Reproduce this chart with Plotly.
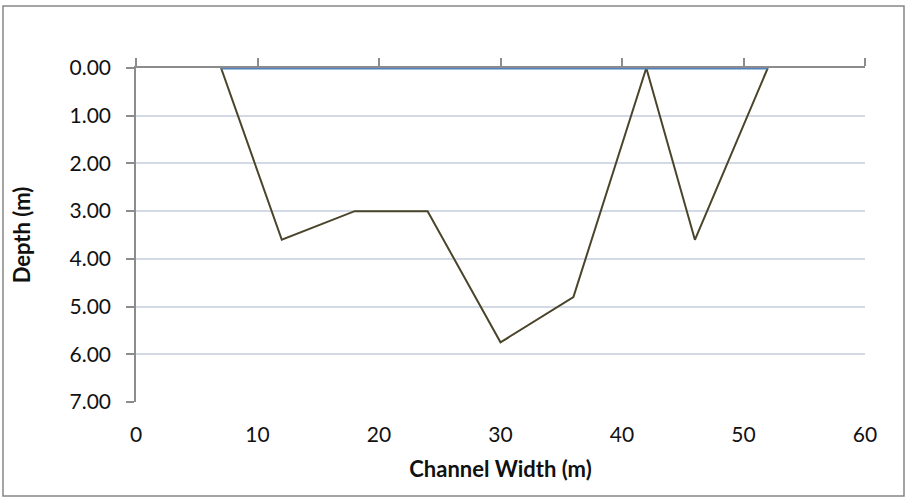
import plotly.graph_objects as go

# channel cross-section survey
width_m = [7, 12, 18, 24, 30, 36, 42, 46, 52]
depth_m = [0.0, 3.6, 3.0, 3.0, 5.75, 4.8, 0.0, 3.6, 0.0]

surface_x = [7, 52]
surface_y = [0.0, 0.0]

x_ticks = [0, 10, 20, 30, 40, 50, 60]
y_ticks = [0, 1, 2, 3, 4, 5, 6, 7]
y_labels = ['%.2f' % v for v in y_ticks]

W, H = 906, 498
L, R, T, B = 136, 41, 68, 96
pw, ph = W - L - R, H - T - B

font_family = 'Lato, Calibri, sans-serif'
axis_grey = '#8c8c8c'

fig = go.Figure()
fig.add_trace(
    go.Scatter(
        x=width_m,
        y=depth_m,
        mode='lines',
        line=dict(color='#4A452A', width=2),
        cliponaxis=False,
        xaxis='x',
        yaxis='y',
        showlegend=False
    )
)
fig.add_trace(
    go.Scatter(
        x=surface_x,
        y=surface_y,
        mode='lines',
        line=dict(color='#4F81BD', width=3),
        cliponaxis=False,
        xaxis='x2',
        yaxis='y',
        showlegend=False
    )
)

fig.update_layout(
    width=W,
    height=H,
    font=dict(family=font_family, size=21, color='#111111'),
    paper_bgcolor='white',
    plot_bgcolor='white',
    margin=dict(l=L, r=R, t=T, b=B, autoexpand=False),
    xaxis=dict(
        range=[0, 60],
        tickvals=x_ticks,
        showgrid=False,
        zeroline=False,
        showline=False,
        ticks='',
        ticklabelstandoff=18,
        title=dict(text='<b>Channel Width (m)</b>', standoff=16,
                   font=dict(size=22))
    ),
    xaxis2=dict(
        range=[0, 60],
        overlaying='x',
        side='top',
        anchor='y',
        layer='below traces',
        tickvals=x_ticks,
        showticklabels=False,
        showgrid=False,
        zeroline=False,
        showline=True,
        linecolor=axis_grey,
        linewidth=1.5,
        ticks='outside',
        ticklen=8,
        tickcolor=axis_grey,
        tickwidth=1.5
    ),
    yaxis=dict(
        range=[7, 0],
        tickvals=y_ticks,
        ticktext=y_labels,
        showgrid=True,
        gridcolor='#D3DAE6',
        gridwidth=1.5,
        zeroline=False,
        showline=True,
        linecolor=axis_grey,
        linewidth=1.5,
        ticks='outside',
        ticklen=8,
        tickcolor=axis_grey,
        tickwidth=1.5,
        ticklabelstandoff=11,
        title=dict(text='<b>Depth (m)</b>', standoff=33,
                   font=dict(size=22))
    ),
    shapes=[
        dict(
            type='rect',
            xref='paper',
            yref='paper',
            x0=(3 - L) / pw,
            x1=(W - 2 - L) / pw,
            y0=(H - B - 496) / ph,
            y1=(H - B - 6) / ph,
            line=dict(color='#868686', width=1.5),
            layer='below'
        )
    ]
)

fig.write_html(
    'out.html',
    config={'displayModeBar': False},
    post_script="document.body.style.margin='0';"
)
